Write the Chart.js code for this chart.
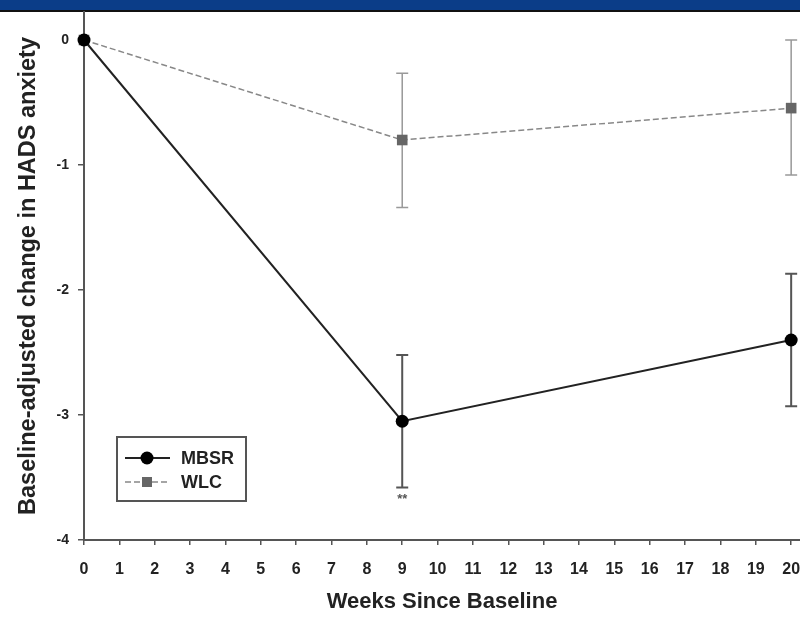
<!DOCTYPE html>
<html><head><meta charset="utf-8">
<script src="https://cdn.jsdelivr.net/npm/chart.js@4.4.0/dist/chart.umd.min.js"></script>
<style>html,body{margin:0;padding:0;background:#fff;overflow:hidden}#wrap{width:800px;height:618px}</style>
</head><body><div id="wrap"><canvas id="c" width="800" height="618"></canvas></div>
<script>
// ---- data ----
const weeks = [0, 9, 20];
const mbsrMean = [0, -3.05, -2.40];
const mbsrLow  = [0, -3.58, -2.93];
const mbsrHigh = [0, -2.52, -1.87];
const wlcMean  = [0, -0.80, -0.545];
const wlcLow   = [0, -1.34, -1.08];
const wlcHigh  = [0, -0.265, 0.0];
const seriesNames = ['MBSR', 'WLC'];
const xTickValues = [0,1,2,3,4,5,6,7,8,9,10,11,12,13,14,15,16,17,18,19,20];
const yTickValues = [0,-1,-2,-3,-4];
const xTitle = 'Weeks Since Baseline';
const yTitle = 'Baseline-adjusted change in HADS anxiety';
const sigWeek = 9;
const sigText = '**';

const FONT = "'Liberation Sans', Arial, sans-serif";

const bandPlugin = {
  id: 'band',
  beforeDraw(chart) {
    const ctx = chart.ctx;
    ctx.save();
    ctx.fillStyle = '#ffffff';
    ctx.fillRect(0, 0, chart.width, chart.height);
    ctx.fillStyle = '#0b3d88';
    ctx.fillRect(0, 0, chart.width, 10);
    ctx.fillStyle = '#111';
    ctx.fillRect(0, 10, chart.width, 2);
    ctx.restore();
  }
};

const errorBarPlugin = {
  id: 'errbars',
  beforeDatasetsDraw(chart) {
    const ctx = chart.ctx;
    const xs = chart.scales.x, ys = chart.scales.y;
    chart.data.datasets.forEach((ds) => {
      ctx.save();
      ctx.strokeStyle = ds.errColor;
      ctx.lineWidth = ds.errWidth;
      ds.data.forEach((p, i) => {
        const lo = ds.errLow[i], hi = ds.errHigh[i];
        if (lo === hi) return;
        const x = xs.getPixelForValue(p.x);
        const y1 = ys.getPixelForValue(lo), y2 = ys.getPixelForValue(hi);
        ctx.beginPath();
        ctx.moveTo(x, y1); ctx.lineTo(x, y2);
        ctx.moveTo(x - 6, y1); ctx.lineTo(x + 6, y1);
        ctx.moveTo(x - 6, y2); ctx.lineTo(x + 6, y2);
        ctx.stroke();
      });
      ctx.restore();
    });
  },
  afterDatasetsDraw(chart) {
    const ctx = chart.ctx;
    const xs = chart.scales.x, ys = chart.scales.y;
    const ds = chart.data.datasets[0];
    const idx = ds.data.findIndex(p => p.x === sigWeek);
    ctx.save();
    ctx.fillStyle = '#555';
    ctx.font = 'bold 13px ' + FONT;
    ctx.textAlign = 'center';
    ctx.textBaseline = 'top';
    ctx.fillText(sigText, xs.getPixelForValue(sigWeek), ys.getPixelForValue(ds.errLow[idx]) + 5);
    ctx.restore();
  }
};

const legendPlugin = {
  id: 'boxlegend',
  afterDraw(chart) {
    const ctx = chart.ctx;
    const bx = 117, by = 437, bw = 129, bh = 64;
    ctx.save();
    ctx.strokeStyle = '#555';
    ctx.lineWidth = 2;
    ctx.strokeRect(bx, by, bw, bh);
    chart.data.datasets.forEach((ds, i) => {
      const y = by + 21 + i * 24;
      ctx.strokeStyle = ds.borderColor;
      ctx.lineWidth = ds.borderWidth;
      ctx.setLineDash(ds.borderDash || []);
      ctx.beginPath(); ctx.moveTo(bx + 8, y); ctx.lineTo(bx + 53, y); ctx.stroke();
      ctx.setLineDash([]);
      ctx.fillStyle = ds.pointBackgroundColor;
      const cx = bx + 30;
      if (ds.pointStyle === 'rect') {
        ctx.fillRect(cx - 5, y - 5, 10, 10);
      } else {
        ctx.beginPath(); ctx.arc(cx, y, ds.pointRadius, 0, Math.PI * 2); ctx.fill();
      }
      ctx.fillStyle = '#222';
      ctx.font = 'bold 18px ' + FONT;
      ctx.textAlign = 'left';
      ctx.textBaseline = 'middle';
      ctx.fillText(ds.label, bx + 64, y + 1);
    });
    ctx.restore();
  }
};

const toPts = (arr) => weeks.map((w, i) => ({ x: w, y: arr[i] }));

new Chart(document.getElementById('c'), {
  type: 'line',
  data: {
    datasets: [
      {
        label: seriesNames[0],
        data: toPts(mbsrMean),
        errLow: mbsrLow, errHigh: mbsrHigh,
        errColor: '#555', errWidth: 2,
        borderColor: '#222', borderWidth: 2,
        pointStyle: 'circle', pointRadius: 6.5,
        pointBackgroundColor: '#000', pointBorderColor: '#000', pointBorderWidth: 0,
        clip: false,
        order: 0
      },
      {
        label: seriesNames[1],
        data: toPts(wlcMean),
        errLow: wlcLow, errHigh: wlcHigh,
        errColor: '#999', errWidth: 1.5,
        borderColor: '#888', borderWidth: 1.5, borderDash: [6, 3],
        pointStyle: 'rect', pointRadius: 7.5,
        pointBackgroundColor: '#666', pointBorderColor: '#666', pointBorderWidth: 0,
        clip: false,
        order: 1
      }
    ]
  },
  options: {
    responsive: false,
    devicePixelRatio: 1,
    animation: false,
    layout: { autoPadding: false, padding: { top: 12, left: 0, right: 0, bottom: 0 } },
    plugins: { legend: { display: false }, tooltip: { enabled: false } },
    scales: {
      x: {
        type: 'linear', min: 0, max: 20.25,
        afterBuildTicks: s => { s.ticks = xTickValues.map(v => ({ value: v })); },
        afterFit: s => { s.height = 78; s.paddingLeft = 0; s.paddingRight = 0; },
        grid: { drawOnChartArea: false, drawTicks: true, tickLength: 5, color: '#555', lineWidth: 1.5 },
        border: { color: '#555', width: 2 },
        ticks: { font: { family: FONT, size: 16, weight: 'bold' }, color: '#222', padding: 15, maxRotation: 0, autoSkip: false },
        title: { display: true, text: xTitle, font: { family: FONT, size: 22, weight: 'bold' }, color: '#222', padding: { top: 0, bottom: 3 } }
      },
      y: {
        type: 'linear', min: -4, max: 0.224,
        afterBuildTicks: s => { s.ticks = yTickValues.map(v => ({ value: v })); },
        afterFit: s => { s.width = 84; s.paddingTop = 0; s.paddingBottom = 0; },
        grid: { drawOnChartArea: false, drawTicks: true, tickLength: 6, color: '#555', lineWidth: 1.5 },
        border: { color: '#555', width: 2 },
        ticks: { font: { family: FONT, size: 14, weight: 'bold' }, color: '#222', padding: 9 },
        title: { display: true, text: yTitle, font: { family: FONT, size: 23.5, weight: 'bold' }, color: '#222', padding: { top: 14, bottom: 0 } }
      }
    }
  },
  plugins: [bandPlugin, errorBarPlugin, legendPlugin]
});
</script>
</body></html>
